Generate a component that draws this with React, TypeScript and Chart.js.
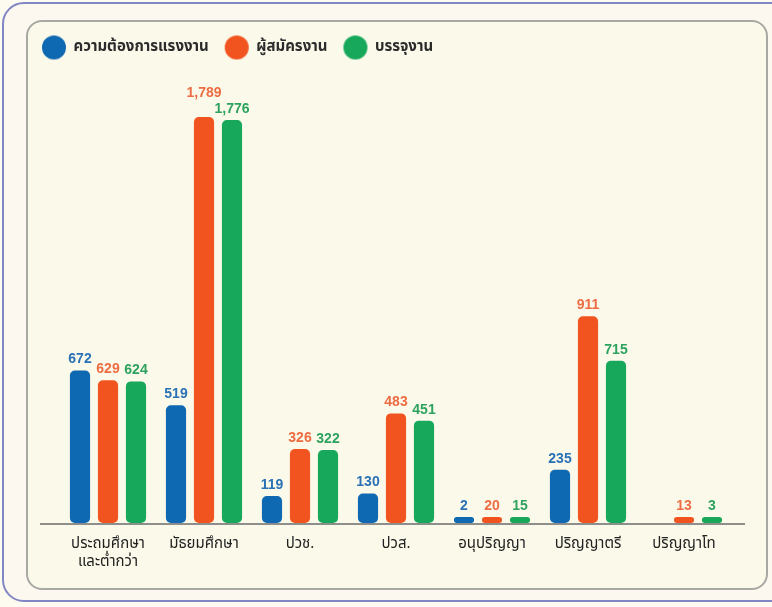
import React, { useEffect, useRef } from 'react';
import { Chart, registerables } from 'chart.js';

Chart.register(...registerables);

const categories: (string | string[])[] = [
  ['ประถมศึกษา', 'และต่ำกว่า'],
  'มัธยมศึกษา',
  'ปวช.',
  'ปวส.',
  'อนุปริญญา',
  'ปริญญาตรี',
  'ปริญญาโท',
];
const seriesNames = ['ความต้องการแรงงาน', 'ผู้สมัครงาน', 'บรรจุงาน'];
const demand: (number | null)[] = [672, 519, 119, 130, 2, 235, null];
const applicants: (number | null)[] = [629, 1789, 326, 483, 20, 911, 13];
const placed: (number | null)[] = [624, 1776, 322, 451, 15, 715, 3];

const barColors = ['#0e68b2', '#f2541f', '#17a85c'];
const labelColors = ['#2a72b5', '#ec6d43', '#2ea35f'];
const FONT = '"Noto Sans Thai", "Noto Sans", "DejaVu Sans", sans-serif';

function makeDot(color: string) {
  const c = document.createElement('canvas');
  c.width = 26;
  c.height = 26;
  const g = c.getContext('2d')!;
  g.fillStyle = color;
  g.beginPath();
  g.arc(13, 13, 12, 0, Math.PI * 2);
  g.fill();
  return c;
}

const valueLabels = {
  id: 'valueLabels',
  afterDatasetsDraw(chart: any) {
    const ctx = chart.ctx;
    ctx.save();
    ctx.font = 'bold 14px "Liberation Sans", Arial, sans-serif';
    ctx.textAlign = 'center';
    ctx.textBaseline = 'bottom';
    const n = chart.data.labels.length;
    for (let j = 0; j < n; j++) {
      const items: any[] = [];
      chart.data.datasets.forEach((ds: any, i: number) => {
        const v = ds.data[j];
        if (v == null) return;
        const el = chart.getDatasetMeta(i).data[j];
        const text = Number(v).toLocaleString('en-US');
        const w = ctx.measureText(text).width;
        items.push({ i, text, x: el.x, y: el.y - 4, w });
      });
      // lower labels keep position, higher ones move up when they collide
      items.sort((a, b) => b.y - a.y);
      for (let k = 1; k < items.length; k++) {
        for (let m = 0; m < k; m++) {
          const a = items[k];
          const b = items[m];
          const overlapX = Math.abs(a.x - b.x) < (a.w + b.w) / 2 + 1;
          if (overlapX && a.y > b.y - 16) a.y = b.y - 16;
        }
      }
      items.forEach((it) => {
        ctx.fillStyle = labelColors[it.i];
        ctx.fillText(it.text, it.x, it.y);
      });
    }
    ctx.restore();
  },
};

const baseLine = {
  id: 'baseLine',
  afterDatasetsDraw(chart: any) {
    const ctx = chart.ctx;
    const y = chart.chartArea.bottom + 1;
    ctx.save();
    ctx.strokeStyle = '#8e8e8a';
    ctx.lineWidth = 2;
    ctx.beginPath();
    ctx.moveTo(40, y);
    ctx.lineTo(745, y);
    ctx.stroke();
    ctx.restore();
  },
};

export default function App() {
  const ref = useRef<HTMLCanvasElement>(null);

  useEffect(() => {
    const dots = barColors.map(makeDot);
    const series = [demand, applicants, placed];
    const chart = new Chart(ref.current!, {
      type: 'bar',
      data: {
        labels: categories,
        datasets: series.map((d, i) => ({
          label: seriesNames[i],
          data: d,
          backgroundColor: barColors[i],
          borderRadius: 5,
          borderSkipped: false,
          minBarLength: 6,
          categoryPercentage: 0.875,
          barPercentage: 0.72,
        })),
      },
      options: {
        animation: false,
        responsive: false,
        layout: { padding: { left: 26, right: 40, top: 24, bottom: 24 } },
        plugins: {
          tooltip: { enabled: false },
          legend: {
            position: 'top',
            align: 'start',
            labels: {
              usePointStyle: true,
              pointStyleWidth: 24,
              padding: 16,
              color: '#2b2b2b',
              font: { size: 15, family: FONT, weight: 'bold' },
              generateLabels: () =>
                seriesNames.map((t, i) => ({
                  text: t,
                  fillStyle: barColors[i],
                  strokeStyle: barColors[i],
                  lineWidth: 0,
                  pointStyle: dots[i],
                  hidden: false,
                  datasetIndex: i,
                  fontColor: '#2b2b2b',
                })),
            },
          },
        },
        scales: {
          x: {
            grid: { display: false, drawTicks: false },
            border: { display: false },
            ticks: {
              color: '#222',
              font: { size: 15, family: FONT },
              padding: 13,
              maxRotation: 0,
              autoSkip: false,
            },
            afterFit: (s: any) => {
              s.height = 60;
            },
          },
          y: {
            min: 0,
            max: 2018,
            grid: { display: false, drawTicks: false },
            border: { display: false },
            ticks: { display: false },
            afterFit: (s: any) => {
              s.width = 34;
            },
          },
        },
      },
      plugins: [valueLabels, baseLine],
    });
    return () => chart.destroy();
  }, []);

  return (
    <div
      style={{
        position: 'fixed',
        left: 0,
        top: 0,
        width: 772,
        height: 607,
        overflow: 'hidden',
        background: '#fdfaf0',
      }}
    >
      <div
        style={{
          position: 'absolute',
          left: 2,
          top: 2,
          width: 790,
          height: 596,
          border: '2px solid #8185c4',
          borderRadius: 22,
          background: '#fdf8ef',
        }}
      />
      <div
        style={{
          position: 'absolute',
          left: 26,
          top: 20,
          width: 738,
          height: 566,
          border: '2px solid #a9a9a4',
          borderRadius: 16,
          background: '#fbf9ea',
        }}
      />
      <canvas
        ref={ref}
        width={772}
        height={607}
        style={{ position: 'absolute', left: 0, top: 0, width: 772, height: 607 }}
      />
    </div>
  );
}
